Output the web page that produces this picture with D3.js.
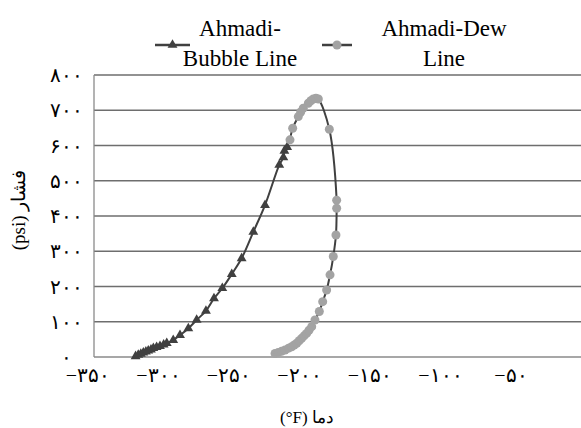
<!DOCTYPE html>
<html>
<head>
<meta charset="utf-8">
<script src="https://cdn.jsdelivr.net/npm/d3@7"></script>
</head>
<body style="margin:0">
<script>
// Bubble line points (temperature °F, pressure psi)
var bubbleT = [-320.5, -318.6, -316.8, -315.0, -313.2, -311.5, -309.6, -307.9, -305.6, -303.2, -300.6, -298.4, -293.8, -289.0, -283.1, -277.2, -270.6, -264.9, -259.0, -252.3, -245.3, -237.0, -228.7, -218.6, -215.7, -215.0, -213.0];
var bubbleP = [2, 6, 9, 12, 15, 18, 21, 25, 28, 31, 35, 39, 48, 62, 81, 105, 131, 166, 195, 235, 280, 355, 431, 545, 566, 585, 595];

// Dew line points
var dewT = [-221.6, -219.3, -217.0, -214.5, -212.0, -209.8, -208.0, -206.2, -204.5, -202.7, -201.0, -199.2, -197.5, -195.6, -193.3, -190.2, -187.8, -185.0, -182.6, -180.3, -178.4, -177.9, -177.9, -183.1, -190.9, -192.6, -194.5, -196.2, -198.0, -201.6, -203.4, -205.1, -209.1, -211.0];
var dewP = [10, 13, 16, 20, 25, 29, 34, 39, 46, 53, 60, 67, 76, 86, 105, 129, 157, 190, 233, 285, 346, 422, 445, 646, 732, 734, 732, 727, 720, 706, 695, 682, 649, 616];

var xTicks = [-350, -300, -250, -200, -150, -100, -50];
var yTicks = [0, 100, 200, 300, 400, 500, 600, 700, 800];
var seriesNames = [["Ahmadi-", "Bubble Line"], ["Ahmadi-Dew", "Line"]];

var faDigits = "۰۱۲۳۴۵۶۷۸۹";
function toFa(v) {
    var s = String(Math.abs(v)).replace(/\d/g, function (d) { return faDigits[d]; });
    return (v < 0 ? "\u2212" : "") + s;
}

var width = 581, height = 428;
var margin = { top: 75, right: 0, bottom: 71, left: 94 };

var svg = d3.select("body").append("svg")
    .attr("width", width)
    .attr("height", height);

var x = d3.scaleLinear().domain([-350, 0]).range([margin.left, 587.5]);
var y = d3.scaleLinear().domain([0, 800]).range([height - margin.bottom, margin.top]);

// helper: text with serif font
function addText(sel, size) {
    return sel.append("text")
        .attr("font-family", "Times New Roman")
        .style("font-family", "'Times New Roman', 'Liberation Serif', serif")
        .style("font-weight", "400")
        .attr("font-size", size);
}

// gridlines
svg.append("g")
    .selectAll("line")
    .data(yTicks.slice(1))
    .enter().append("line")
    .attr("x1", margin.left)
    .attr("x2", width)
    .attr("y1", function (d) { return y(d); })
    .attr("y2", function (d) { return y(d); })
    .attr("stroke", "#6e6e6e")
    .attr("stroke-width", 1.4);

// axis lines
svg.append("line")
    .attr("x1", margin.left).attr("x2", margin.left)
    .attr("y1", y(800)).attr("y2", y(0))
    .attr("stroke", "#8a8a8a").attr("stroke-width", 1.3);
svg.append("line")
    .attr("x1", margin.left).attr("x2", width)
    .attr("y1", y(0)).attr("y2", y(0))
    .attr("stroke", "#8a8a8a").attr("stroke-width", 1.3);

// tick labels
xTicks.forEach(function (d) {
    addText(svg, 20)
        .attr("x", x(d) - 6)
        .attr("y", 382)
        .attr("text-anchor", "middle")
        .text(toFa(d));
});
yTicks.forEach(function (d) {
    addText(svg, 20)
        .attr("x", 66)
        .attr("y", y(d) + 7)
        .attr("text-anchor", "middle")
        .text(toFa(d));
});

// axis titles (written in visual order)
addText(svg, 17)
    .attr("x", 307)
    .attr("y", 423)
    .attr("text-anchor", "middle")
    .text("(°F) دما");

addText(svg, 19)
    .attr("transform", "translate(25,210) rotate(-90)")
    .attr("text-anchor", "middle")
    .text("(psi) فشار");

var line = d3.line()
    .x(function (d) { return x(d[0]); })
    .y(function (d) { return y(d[1]); })
    .curve(d3.curveCatmullRom.alpha(0.5));

var bubble = bubbleT.map(function (t, i) { return [t, bubbleP[i]]; });
var dew = dewT.map(function (t, i) { return [t, dewP[i]]; });

var tri = d3.symbol().type(d3.symbolTriangle).size(42);

// bubble series
svg.append("path")
    .datum(bubble)
    .attr("fill", "none")
    .attr("stroke", "#404040")
    .attr("stroke-width", 2)
    .attr("d", line);
svg.selectAll(".tri")
    .data(bubble)
    .enter().append("path")
    .attr("class", "tri")
    .attr("transform", function (d) { return "translate(" + x(d[0]) + "," + y(d[1]) + ")"; })
    .attr("d", tri)
    .attr("fill", "#404040");

// dew series
svg.append("path")
    .datum(dew)
    .attr("fill", "none")
    .attr("stroke", "#404040")
    .attr("stroke-width", 2)
    .attr("d", line);
svg.selectAll(".dot")
    .data(dew)
    .enter().append("circle")
    .attr("class", "dot")
    .attr("cx", function (d) { return x(d[0]); })
    .attr("cy", function (d) { return y(d[1]); })
    .attr("r", 4.5)
    .attr("fill", "#a3a3a3");

// legend
var legItems = [
    { x1: 155, x2: 190, tx: 240, names: seriesNames[0], marker: "tri" },
    { x1: 322, x2: 352, tx: 444, names: seriesNames[1], marker: "dot" }
];
legItems.forEach(function (it) {
    svg.append("line")
        .attr("x1", it.x1).attr("x2", it.x2)
        .attr("y1", 45).attr("y2", 45)
        .attr("stroke", "#404040").attr("stroke-width", 2.5);
    if (it.marker == "tri") {
        svg.append("path")
            .attr("transform", "translate(" + ((it.x1 + it.x2) / 2) + ",45)")
            .attr("d", tri)
            .attr("fill", "#404040");
    } else {
        svg.append("circle")
            .attr("cx", (it.x1 + it.x2) / 2).attr("cy", 45)
            .attr("r", 4.5).attr("fill", "#a3a3a3");
    }
    it.names.forEach(function (n, i) {
        addText(svg, 23)
            .attr("x", it.tx)
            .attr("y", 36 + i * 30)
            .attr("text-anchor", "middle")
            .text(n);
    });
});
</script>
</body>
</html>
